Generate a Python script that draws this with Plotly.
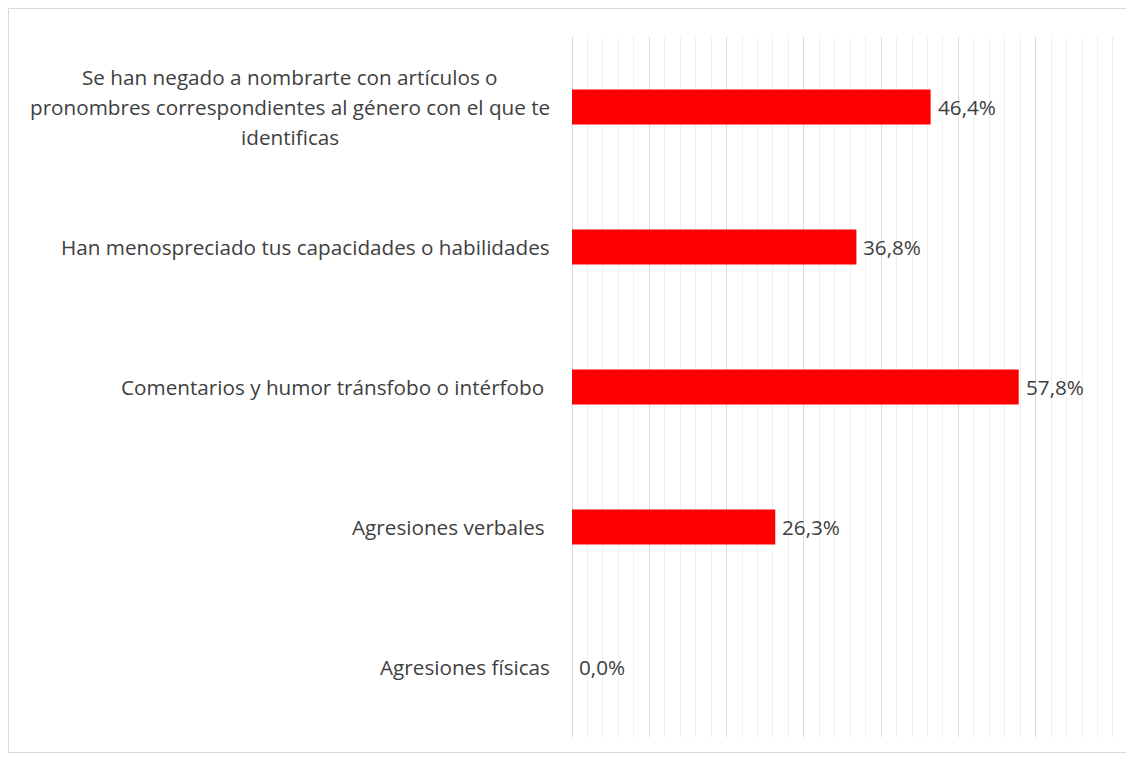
import plotly.graph_objects as go

categories = [
    "Se han negado a nombrarte con artículos o<br>pronombres correspondientes al género con el que te<br>identificas",
    "Han menospreciado tus capacidades o habilidades",
    "Comentarios y humor tránsfobo o intérfobo ",
    "Agresiones verbales ",
    "Agresiones físicas",
]
values = [46.4, 36.8, 57.8, 26.3, 0.0]
value_labels = [f"{v:.1f}".replace(".", ",") + "%" for v in values]
x_max = 70

FONT = "'Open Sans', sans-serif"
TXT = "#404040"
FS = 20.7
OFF = 8  # page body margin

fig = go.Figure()
fig.add_trace(go.Bar(
    x=values, y=categories, orientation="h",
    marker=dict(color="#ff0000", line=dict(width=0)),
    width=0.25, hoverinfo="x+y",
))

L, R, T, B = 572 - OFF, 1113 - OFF, 37 - OFF, 737 - OFF
pw, ph = R - L, B - T
center_px = 290 - OFF
LINE = 30

annotations = []
for c in categories:
    lines = c.split("<br>")
    n = len(lines)
    for i, ln in enumerate(lines):
        if n == 1:
            pos = dict(x=0, xanchor="right", xshift=-20)
        else:
            pos = dict(x=(center_px - L) / pw, xanchor="center", xshift=0)
        annotations.append(dict(
            xref="paper", y=c, yref="y", text=ln,
            yanchor="middle", align="center", showarrow=False,
            yshift=((n - 1) / 2 - i) * LINE,
            font=dict(family=FONT, size=FS, color=TXT), **pos,
        ))
for c, v, t in zip(categories, values, value_labels):
    annotations.append(dict(
        x=v, xref="x", y=c, yref="y", text=t,
        xanchor="left", yanchor="middle", showarrow=False, xshift=5,
        font=dict(family=FONT, size=FS, color=TXT),
    ))

# outer chart border
fig.add_shape(type="rect", xref="paper", yref="paper",
              x0=(0.5 - L) / pw, x1=(1130.5 - OFF - L) / pw,
              y0=(B - (752.5 - OFF)) / ph, y1=(B - 0.5) / ph,
              line=dict(color="#d9d9d9", width=1), fillcolor="rgba(0,0,0,0)", layer="below")
# final major gridline at the axis maximum (plotly skips it at the range edge)
fig.add_shape(type="line", xref="x", yref="paper", x0=x_max, x1=x_max, y0=0, y1=1,
              line=dict(color="#d9d9d9", width=1), layer="below")

fig.update_layout(
    width=1134, height=760,
    margin=dict(l=L, r=1134 - R, t=T, b=760 - B),
    paper_bgcolor="white", plot_bgcolor="white",
    showlegend=False,
    annotations=annotations,
    font=dict(family=FONT, size=FS, color=TXT),
    xaxis=dict(range=[0, x_max], dtick=10, showticklabels=False, showgrid=True,
               gridcolor="#d9d9d9", gridwidth=1, zeroline=True, zerolinecolor="#d9d9d9",
               zerolinewidth=1, showline=False, ticks="",
               minor=dict(dtick=2, showgrid=True, gridcolor="#f0f0f0", gridwidth=1)),
    yaxis=dict(autorange="reversed", showticklabels=False, showgrid=False,
               zeroline=False, showline=False, ticks=""),
)

fig.write_html("out.html")
